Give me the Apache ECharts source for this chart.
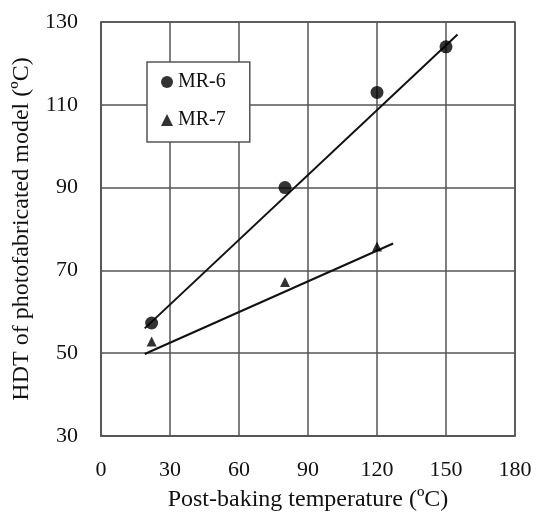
<!DOCTYPE html>
<html>
<head>
	<meta charset="utf-8">
	<title>HDT vs post-baking temperature</title>
	<script src="https://cdn.jsdelivr.net/npm/echarts@6/dist/echarts.min.js"></script>
	<style>
		html, body { margin: 0; padding: 0; background: #fff; }
	</style>
</head>
<body>
	<div id="echart" style="width: 537px; height: 517px"></div>
	<script>
		// measured points
		let mr6 = [[22, 57.3], [80, 90], [120, 113], [150, 124]];
		let mr7 = [[22, 52.8], [80, 67.2], [120, 75.8]];
		// fitted lines, end points as drawn
		let mr6Fit = [[19, 56], [155, 127]];
		let mr7Fit = [[19, 49.8], [127, 76.5]];
		let xTicks = [0, 30, 60, 90, 120, 150, 180];
		let yTicks = [30, 50, 70, 90, 110, 130];

		let font = 'Liberation Serif';
		let gridColor = '#555';

		let mychart = echarts.init(document.getElementById('echart'));
		let option = {
			animation: false,
			backgroundColor: '#fff',
			textStyle: { fontFamily: font, color: '#111' },
			grid: {
				left: 101, right: 22, top: 22, bottom: 78,
				show: true,
				borderColor: gridColor,
				borderWidth: 1.5
			},
			legend: {
				orient: 'vertical',
				left: 147,
				top: 62,
				data: ['MR-6', 'MR-7'],
				backgroundColor: '#fff',
				borderColor: gridColor,
				borderWidth: 1.5,
				padding: [10, 24, 12, 14],
				itemGap: 18,
				itemWidth: 12,
				itemHeight: 12,
				textStyle: { fontFamily: font, fontSize: 20, color: '#111' }
			},
			xAxis: {
				type: 'value',
				min: xTicks[0],
				max: xTicks[xTicks.length - 1],
				interval: 30,
				name: 'Post-baking temperature (ºC)',
				nameLocation: 'middle',
				nameGap: 52,
				nameTextStyle: { fontFamily: font, fontSize: 24, color: '#111' },
				axisLine: { show: true, lineStyle: { color: gridColor, width: 1.5 } },
				axisTick: { show: false },
				axisLabel: { margin: 23, fontFamily: font, fontSize: 22, color: '#111' },
				splitLine: { show: true, lineStyle: { color: gridColor, width: 1.5 } }
			},
			yAxis: {
				type: 'value',
				min: yTicks[0],
				max: yTicks[yTicks.length - 1],
				interval: 20,
				name: 'HDT of photofabricated model (ºC)',
				nameLocation: 'middle',
				nameGap: 64,
				nameTextStyle: { fontFamily: font, fontSize: 24, color: '#111' },
				axisLine: { show: true, lineStyle: { color: gridColor, width: 1.5 } },
				axisTick: { show: false },
				axisLabel: { margin: 23, fontFamily: font, fontSize: 22, color: '#111' },
				splitLine: { show: true, lineStyle: { color: gridColor, width: 1.5 } }
			},
			series: [
				{
					name: 'MR-6 fit',
					type: 'line',
					data: mr6Fit,
					symbol: 'none',
					lineStyle: { color: '#111', width: 2 },
					z: 3
				},
				{
					name: 'MR-7 fit',
					type: 'line',
					data: mr7Fit,
					symbol: 'none',
					lineStyle: { color: '#111', width: 2 },
					z: 3
				},
				{
					name: 'MR-6',
					type: 'scatter',
					data: mr6,
					symbol: 'circle',
					symbolSize: 13,
					itemStyle: { color: '#000' },
					z: 4
				},
				{
					name: 'MR-7',
					type: 'scatter',
					data: mr7,
					symbol: 'triangle',
					symbolSize: 10,
					itemStyle: { color: '#000' },
					z: 4
				}
			]
		};
		mychart.setOption(option);
	</script>
</body>
</html>
